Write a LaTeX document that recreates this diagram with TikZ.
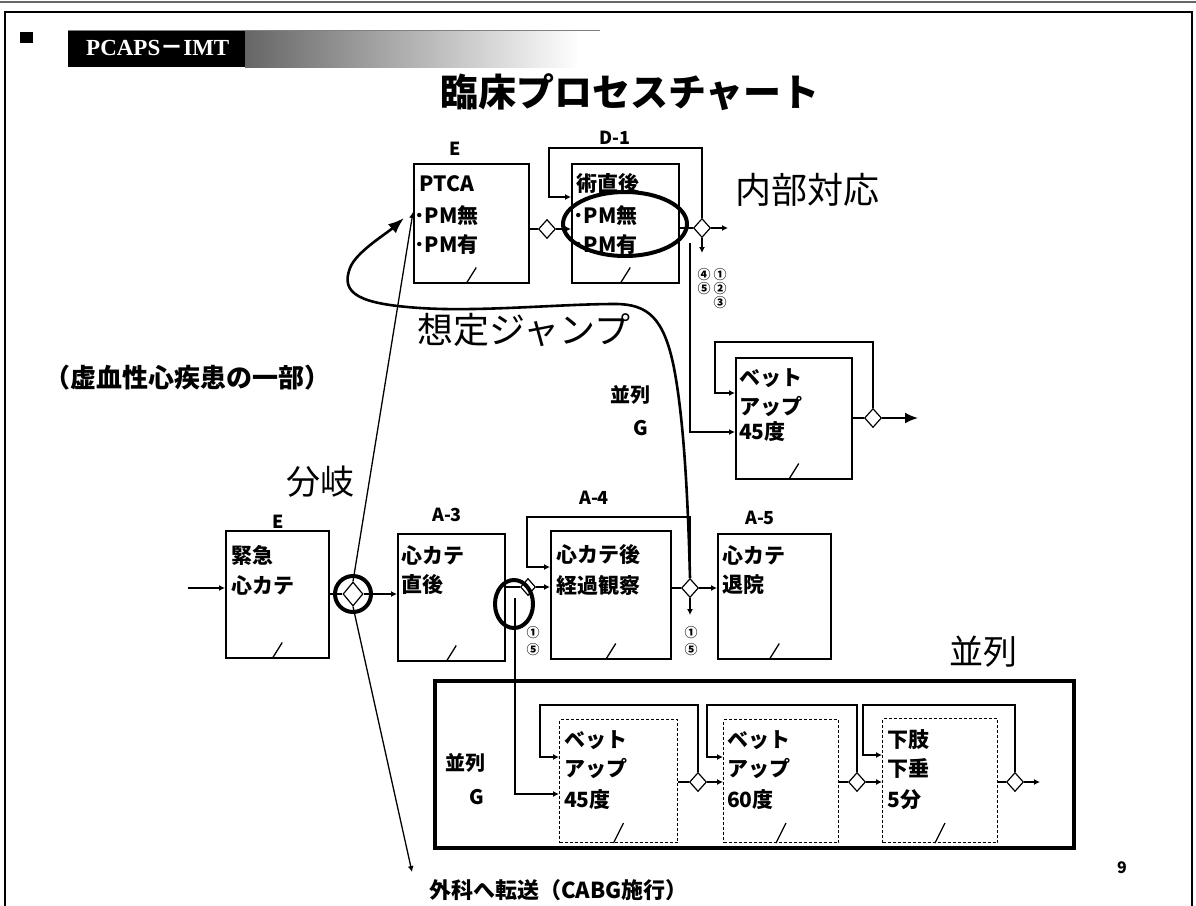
\documentclass[tikz,border=0pt]{standalone}
\usepackage{fontspec}
\newfontfamily\jp{Noto Sans CJK JP}
\newfontfamily\ser{Liberation Serif}
\usetikzlibrary{shapes.geometric,arrows.meta,calc}
\begin{document}
\begin{tikzpicture}[x=1pt,y=-1pt,
  box/.style={draw, line width=1.5pt, inner sep=0pt, anchor=north west},
  dbox/.style={draw, line width=1pt, densely dashed, inner sep=0pt, anchor=north west},
  dia/.style={draw, diamond, fill=white, line width=1.2pt, inner sep=0pt, minimum width=17pt, minimum height=19pt},
  ln/.style={line width=1.5pt},
  arr/.style={line width=1.5pt, -{Latex[length=6pt,width=6pt]}},
  tx/.style={font=\jp\bfseries\fontsize{21}{23}\selectfont, anchor=west, inner sep=0pt},
  lab/.style={font=\jp\bfseries\fontsize{18}{20}\selectfont, inner sep=0pt},
  big/.style={font=\jp\fontsize{36}{38}\selectfont, inner sep=0pt},
  cn/.style={font=\jp\bfseries\fontsize{13}{13}\selectfont, inner sep=0pt},
  ring/.style={line width=4pt},
  sl/.style={line width=1.3pt}
]
\useasboundingbox (0,0) rectangle (1196,905);
% frame
\draw[line width=1.2pt, black!60] (0,2) -- (1196,2);
\draw[line width=1.5pt] (5,910) -- (5,12) -- (1192,12) -- (1192,910);
\fill (20,32) rectangle (33,43);
\fill (68,30) rectangle (245,67);
\shade[left color=black!60, right color=white] (245,30) rectangle (580,67);
\draw[black!50, line width=0.8pt] (68,30) -- (600,30);
\node[font=\ser\bfseries\fontsize{23}{25}\selectfont, text=white, anchor=west, inner sep=0pt] (hdr) at (86,48) {PCAPS{\jp －}IMT};
\node[font=\jp\bfseries\fontsize{38}{40}\selectfont, anchor=west, inner sep=0pt] (title) at (440,92) {臨床プロセスチャート};

% upper row
\node[box, minimum width=115, minimum height=119] (ptca) at (413,163) {};
\node[box, minimum width=107, minimum height=119] (d1) at (571,163) {};
\node[dia] (dPT) at (547,229) {};
\node[dia] (dD1) at (702,228) {};
\node[lab] (lE1) at (455,149) {E};
\node[lab] (lD1) at (615,138) {D-1};
\node[tx] (p1) at (419,184) {PTCA};
\node[tx] (p2) at (414,216) {･PM無};
\node[tx] (p3) at (414,245) {･PM有};
\node[tx] (q1) at (576,184) {術直後};
\node[tx] (q2) at (573,216) {･PM無};
\node[tx] (q3) at (573,245) {･PM有};
\draw[ring] (625,224) ellipse [x radius=62, y radius=32];
\draw[ln] (ptca.east |- dPT) -- (dPT.west);
\draw[arr] (dPT.east) -- (d1.west |- dPT);
\draw[ln] (d1.east |- dD1) -- (dD1.west);
\coordinate (lpD1) at (549,148);
\draw[arr] (dD1.north) |- (lpD1) |- (d1.west |- 0,197);
\coordinate (outD1) at (728,228);
\draw[arr] (dD1.east) -- (outD1);
\coordinate (dnD1) at (702,253);
\draw[arr] (dD1.south) -- (dnD1);
\node[big, anchor=center] (naibu) at (807,190) {内部対応};
\node[cn] (c4) at (704,275) {④};
\node[cn] (c1) at (720,275) {①};
\node[cn] (c5) at (704,289) {⑤};
\node[cn] (c2) at (720,289) {②};
\node[cn] (c3) at (720,303) {③};
\draw[sl] ([shift={(5,-16)}]ptca.south) -- ([shift={(-5,0)}]ptca.south);
\draw[sl] ([shift={(5,-16)}]d1.south) -- ([shift={(-5,0)}]d1.south);

% upper bed-up box
\node[box, minimum width=116, minimum height=121] (bu) at (735,357) {};
\node[dia] (dBU) at (873,418) {};
\node[tx] (u1) at (739,378) {ベット};
\node[tx] (u2) at (739,406) {アップ};
\node[tx] (u3) at (739,432) {45度};
\draw[sl] ([shift={(5,-16)}]bu.south) -- ([shift={(-5,0)}]bu.south);
\coordinate (vD1) at (690,243);
\draw[arr] (vD1) |- (bu.west |- 0,432);
\coordinate (lpBU) at (715,342);
\draw[arr] (dBU.north) |- (lpBU) |- (bu.west |- 0,393);
\draw[ln] (bu.east |- dBU) -- (dBU.west);
\coordinate (outBU) at (918,418);
\draw[line width=2pt, -{Latex[length=13pt,width=11pt]}] (dBU.east) -- (outBU);
\node[lab, font=\jp\bfseries\fontsize{20}{22}\selectfont] (pG1) at (630,395) {並列};
\node[lab, font=\jp\bfseries\fontsize{20}{22}\selectfont] (G1) at (641,428) {G};

\node[big] (jump) at (524,330) {想定ジャンプ};
\node[font=\jp\bfseries\fontsize{26}{28}\selectfont, inner sep=0pt] (kyo) at (187,378) {（虚血性心疾患の一部）};

% A row
\node[box, minimum width=103, minimum height=127] (kin) at (225,530) {};
\node[box, minimum width=107, minimum height=127] (a3) at (397,533) {};
\node[box, minimum width=120, minimum height=128] (a4) at (550,530) {};
\node[box, minimum width=113, minimum height=125] (a5) at (717,533) {};
\node[lab] (lE2) at (278,522) {E};
\node[lab] (lA3) at (447,515) {A-3};
\node[lab] (lA4) at (594,498) {A-4};
\node[lab] (lA5) at (760,518) {A-5};
\node[tx] (k1) at (231,555) {緊急};
\node[tx] (k2) at (231,585) {心カテ};
\node[tx] (r1) at (401,555) {心カテ};
\node[tx] (r2) at (401,585) {直後};
\node[tx] (s1) at (556,555) {心カテ後};
\node[tx] (s2) at (556,585) {経過観察};
\node[tx] (v1) at (722,555) {心カテ};
\node[tx] (v2) at (722,585) {退院};
\foreach \b in {kin,a3,a4,a5}{\draw[sl] ([shift={(5,-16)}]\b.south) -- ([shift={(-5,0)}]\b.south);}
\node[big, font=\jp\fontsize{34}{36}\selectfont] (bunki) at (320,482) {分岐};

\node[dia, minimum width=20pt, minimum height=24pt] (jn) at (353,594) {};
\draw[ring] (jn.center) circle [radius=18];
\coordinate (in0) at (188,588);
\draw[arr] (in0) -- (in0 -| kin.west);
\draw[ln] (kin.east |- jn) -- (jn.west);
\draw[arr] (jn.east) -- (a3.west |- jn);
\coordinate (ptin) at (413,212);
\draw[line width=1.3pt, -{Latex[length=6pt,width=6pt]}] (jn.north) -- (ptin);
\coordinate (geka) at (412,872);
\draw[line width=1.3pt, -{Latex[length=6pt,width=6pt]}] (jn.south) -- (geka);
\node[font=\jp\bfseries\fontsize{22}{24}\selectfont, anchor=west, inner sep=0pt] (gekat) at (429,890) {外科へ転送（CABG施行）};

\node[dia, minimum width=15pt, minimum height=17pt] (dA3) at (528,587) {};
\draw[ln] (a3.east |- dA3) -- (dA3.west);
\draw[arr] (dA3.east) -- (a4.west |- dA3);
\draw[ring] (514,604) ellipse [x radius=19, y radius=24];
\node[dia] (dA4) at (690,588) {};
\draw[ln] (a4.east |- dA4) -- (dA4.west);
\draw[arr] (dA4.east) -- (a5.west |- dA4);
\coordinate (dnA4) at (690,615);
\draw[arr] (dA4.south) -- (dnA4);
\coordinate (lpA4) at (527,517);
\draw[arr] (dA4.north) |- (lpA4) |- (a4.west |- 0,567);
\node[cn] (e1) at (533,633) {①};
\node[cn] (e5) at (533,650) {⑤};
\node[cn] (f1) at (691,633) {①};
\node[cn] (f5) at (691,650) {⑤};

% jump curve
\draw[line width=2.6pt, -{Latex[length=16pt,width=12pt]}] (dA4.north) .. controls (688,500) and (684,420) .. (674,368) .. controls (664,318) and (648,304) .. (615,304) .. controls (560,304) and (480,312) .. (420,308) .. controls (360,304) and (340,294) .. (350,268) .. controls (356,252) and (386,234) .. (404,218);

% parallel group
\node[draw, line width=4pt, anchor=north west, inner sep=0pt, minimum width=639, minimum height=167] (par) at (433,679) {};
\node[big, font=\jp\fontsize{34}{36}\selectfont] (parl) at (983,652) {並列};
\node[lab, font=\jp\bfseries\fontsize{20}{22}\selectfont] (pG2) at (465,763) {並列};
\node[lab, font=\jp\bfseries\fontsize{20}{22}\selectfont] (G2) at (477,797) {G};
\node[dbox, minimum width=118, minimum height=123] (b1) at (559,719) {};
\node[dbox, minimum width=115, minimum height=123] (b2) at (723,719) {};
\node[dbox, minimum width=115, minimum height=124] (b3) at (882,718) {};
\node[tx] (w1) at (564,740) {ベット};
\node[tx] (w2) at (564,768) {アップ};
\node[tx] (w3) at (564,800) {45度};
\node[tx] (x1) at (727,740) {ベット};
\node[tx] (x2) at (727,768) {アップ};
\node[tx] (x3) at (727,800) {60度};
\node[tx] (y1) at (887,740) {下肢};
\node[tx] (y2) at (887,768) {下垂};
\node[tx] (y3) at (887,800) {5分};
\foreach \b in {b1,b2,b3}{\draw[sl] ([shift={(5,-20)}]\b.south) -- ([shift={(-5,0)}]\b.south);}
\node[dia] (dB1) at (698,782) {};
\node[dia] (dB2) at (857,782) {};
\node[dia] (dB3) at (1015,782) {};
\coordinate (vA3) at (515,598);
\draw[arr] (vA3) |- (b1.west |- 0,794);
\draw[ln] (b1.east |- dB1) -- (dB1.west);
\draw[arr] (dB1.east) -- (b2.west |- dB1);
\draw[ln] (b2.east |- dB2) -- (dB2.west);
\draw[arr] (dB2.east) -- (b3.west |- dB2);
\draw[ln] (b3.east |- dB3) -- (dB3.west);
\coordinate (outB3) at (1040,782);
\draw[arr] (dB3.east) -- (outB3);
\coordinate (lpB1) at (540,705);
\coordinate (lpB2) at (707,705);
\coordinate (lpB3) at (863,705);
\draw[arr] (dB1.north) |- (lpB1) |- (b1.west |- 0,757);
\draw[arr] (dB2.north) |- (lpB2) |- (b2.west |- 0,757);
\draw[arr] (dB3.north) |- (lpB3) |- (b3.west |- 0,755);

\node[font=\jp\bfseries\fontsize{16}{18}\selectfont, inner sep=0pt] (pg) at (1122,868) {9};
\end{tikzpicture}
\end{document}
